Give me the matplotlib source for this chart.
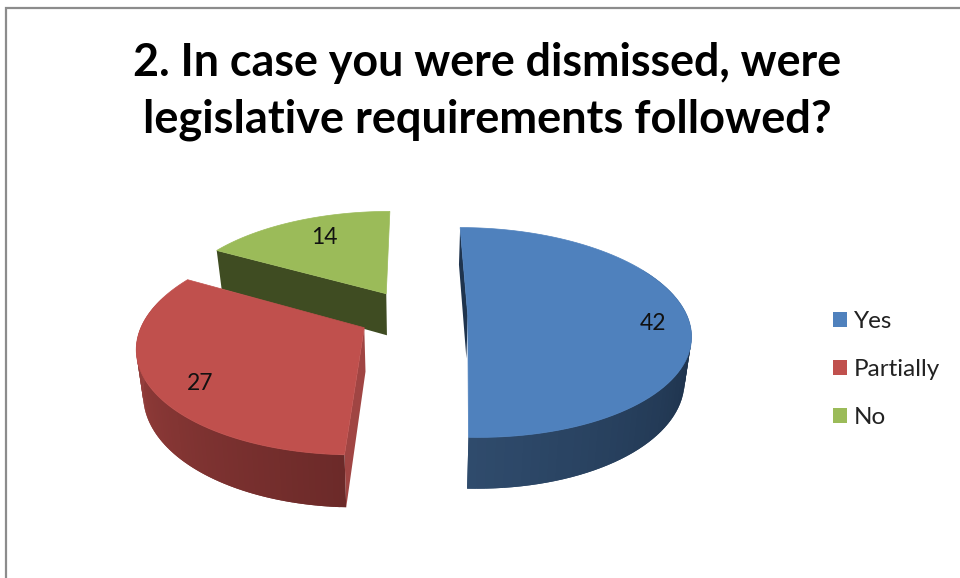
import numpy as np
from matplotlib import pyplot as plt
from matplotlib.patches import Polygon, Patch

categories = ['Yes', 'Partially', 'No']
values = [42, 27, 14]
face_colors = ['#4f81bd', '#c0504d', '#9bbb59']
title_lines = ['2. In case you were dismissed, were', 'legislative requirements followed?']

# projection of the tilted pie, in figure pixels
CX, CY = 413, 315
RX, RY = 219, 102
PERSP = 0.162
EXPLODE = 0.25
DEPTH = 43
BOTTOM_SHRINK = 0.975

# colours along each outer wall, from the start angle of the slice to its end
wall_stops = [
    [(0.0, '#1f344e'), (0.6, '#1f344e'), (1.0, '#2f4b6c')],
    [(0.0, '#6c2a29'), (0.5, '#8a3836'), (1.0, '#a84b48')],
    [(0.0, '#3f4c22'), (1.0, '#3f4c22')],
]
radial_colors = ['#1f344e', '#a04543', '#3f4c22']
label_xy = [(653, 323), (200, 383), (324, 237)]


def project(x, y, bottom=False):
    x, y = np.asarray(x, float), np.asarray(y, float)
    s = 1 / (1 + PERSP * y)
    u = CX + RX * x * s
    v = CY - RY * y * s
    if bottom:
        u = CX + (u - CX) * BOTTOM_SHRINK
        v = v + DEPTH * s
    return np.column_stack([u, v])


def hex_rgb(c):
    return np.array([int(c[i:i + 2], 16) / 255 for i in (1, 3, 5)])


def wall_color(stops, t):
    pos = [p for p, _ in stops]
    rgb = np.array([hex_rgb(c) for _, c in stops])
    return [np.interp(t, pos, rgb[:, i]) for i in range(3)]


def draw_slice(ax, a0, a1, face, stops, radial):
    mid = np.radians((a0 + a1) / 2)
    ox, oy = EXPLODE * np.sin(mid), EXPLODE * np.cos(mid)
    deg = np.linspace(a0, a1, 90)
    th = np.radians(deg)
    xs, ys = ox + np.sin(th), oy + np.cos(th)
    top = project(xs, ys)
    low = project(xs, ys, bottom=True)
    apex = project([ox], [oy])[0]
    apex_low = project([ox], [oy], bottom=True)[0]

    # flat wall along the first cut edge of the slice
    ax.add_patch(Polygon([apex, top[0], low[0], apex_low], fc=radial, ec='none'))

    # rim strips overlap the next one, otherwise seams show between them.
    # only the front of the rim can be seen
    n = len(th) - 1
    for i in range(n):
        if deg[i] < 60 or deg[i] > 285:
            continue
        c = wall_color(stops, i / (n - 1))
        j = min(i + 2, n)
        ax.add_patch(Polygon([top[i], top[j], low[j], low[i]], fc=c, ec='none'))

    ax.add_patch(Polygon(np.vstack([apex, top]), fc=face, ec=face, lw=0.5))


fig = plt.figure(figsize=(9.6, 5.78), dpi=100)
ax = fig.add_axes([0, 0, 1, 1])
ax.set_xlim(0, 960)
ax.set_ylim(578, 0)
ax.axis('off')

# outer chart frame
ax.plot([6, 6, 960], [578, 8, 8], color='#8c8c8c', lw=1.6, solid_joinstyle='miter')

total = sum(values)
edges = np.concatenate([[0], np.cumsum(values) / total * 360])

# far slices first so the nearer ones cover them
for i in [2, 1, 0]:
    draw_slice(ax, edges[i], edges[i + 1], face_colors[i], wall_stops[i], radial_colors[i])

for v, (x, y) in zip(values, label_xy):
    ax.text(x, y, str(v), ha='center', va='center', family='Lato', fontsize=16.5, color='#111111')

ax.text(487, 63, title_lines[0], ha='center', va='center', family='Lato', weight='bold',
        fontsize=32.3, color='#000000')
ax.text(487, 119.5, title_lines[1], ha='center', va='center', family='Lato', weight='bold',
        fontsize=32.5, color='#000000')

handles = [Patch(fc=c, ec='none', label=n) for c, n in zip(face_colors, categories)]
ax.legend(handles=handles, loc='center left', bbox_to_anchor=(833 / 960, 1 - 369.5 / 578),
          frameon=False, prop={'family': 'Lato', 'size': 17.5}, labelcolor='#222222',
          handlelength=0.58, handleheight=0.58, handletextpad=0.29, labelspacing=1.11,
          borderpad=0, borderaxespad=0)

fig.savefig('out.png', dpi=100)
